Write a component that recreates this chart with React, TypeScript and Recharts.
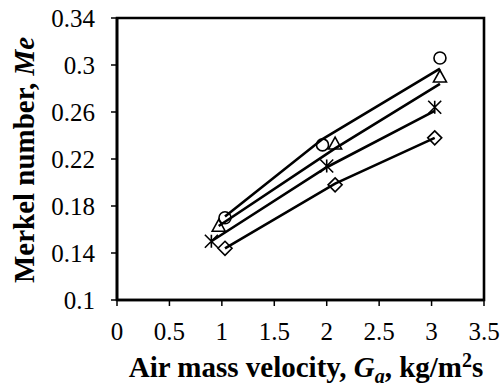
import { ScatterChart, Scatter, XAxis, YAxis, ReferenceArea, Label } from 'recharts'

const xTicks = [0, 0.5, 1, 1.5, 2, 2.5, 3, 3.5]
const yTicks = [0.1, 0.14, 0.18, 0.22, 0.26, 0.3, 0.34]

// measured points (Ga, Me)
const circleGa = [1.03, 1.96, 3.08]
const circleMe = [0.17, 0.232, 0.306]
const triangleGa = [0.97, 2.08, 3.08]
const triangleMe = [0.163, 0.233, 0.29]
const starGa = [0.9, 2.0, 3.03]
const starMe = [0.15, 0.214, 0.264]
const diamondGa = [1.03, 2.08, 3.03]
const diamondMe = [0.144, 0.198, 0.238]

// fitted curves
const circleFit = [0.171, 0.237, 0.297]
const triangleFit = [0.163, 0.229, 0.284]
const starFit = [0.15, 0.213, 0.261]
const diamondFit = [0.144, 0.199, 0.238]

const FONT = 'Liberation Serif, Times New Roman, serif'

const pts = (xs: number[], ys: number[]) => xs.map((x, i) => ({ x, y: ys[i] }))

const stroke = { stroke: '#000', strokeWidth: 1.6, fill: 'none' }

function CircleMark({ cx, cy }: any) {
  return <circle cx={cx} cy={cy} r={6} {...stroke} />
}

function TriangleMark({ cx, cy }: any) {
  const s = 6.5
  return <path d={`M${cx},${cy - s} L${cx + s},${cy + s * 0.8} L${cx - s},${cy + s * 0.8} Z`} {...stroke} />
}

function StarMark({ cx, cy }: any) {
  const s = 6.5
  return (
    <path
      d={`M${cx},${cy - s} L${cx},${cy + s} M${cx - s},${cy - s} L${cx + s},${cy + s} M${cx + s},${cy - s} L${cx - s},${cy + s}`}
      {...stroke}
    />
  )
}

function DiamondMark({ cx, cy }: any) {
  const s = 7
  return <path d={`M${cx},${cy - s} L${cx + s},${cy} L${cx},${cy + s} L${cx - s},${cy} Z`} {...stroke} />
}

const NoMark = () => <g />

const fitLine = { stroke: '#000', strokeWidth: 2.6 }

export default function App() {
  return (
    <div style={{ position: 'absolute', left: 0, top: 0, width: 502, height: 392, background: '#fff' }}>
      <ScatterChart width={502} height={392} margin={{ top: 18, right: 18, left: 0, bottom: 0 }}>
        <XAxis
          type="number"
          dataKey="x"
          domain={[0, 3.5]}
          ticks={xTicks}
          interval={0}
          height={92}
          axisLine={{ stroke: '#000', strokeWidth: 2.6 }}
          tickLine={{ stroke: '#000', strokeWidth: 1.5 }}
          tickSize={6}
          tickMargin={16}
          tick={{ fill: '#000', fontSize: 25, fontFamily: FONT }}
        >
          <Label
            content={() => (
              <text x={306} y={377} textAnchor="middle" fontFamily={FONT} fontSize={29} fontWeight="bold" fill="#000">
                Air mass velocity, <tspan fontStyle="italic">G</tspan>
                <tspan fontStyle="italic" fontSize={20} dy={6}>a</tspan>
                <tspan dy={-6}>, kg/m</tspan>
                <tspan fontSize={20} dy={-10}>2</tspan>
                <tspan dy={10}>s</tspan>
              </text>
            )}
          />
        </XAxis>
        <YAxis
          type="number"
          dataKey="y"
          domain={[0.1, 0.34]}
          ticks={yTicks}
          interval={0}
          width={117}
          axisLine={{ stroke: '#000', strokeWidth: 2.6 }}
          tickLine={{ stroke: '#000', strokeWidth: 1.5 }}
          tickSize={6}
          tickMargin={16}
          tick={{ fill: '#000', fontSize: 25, fontFamily: FONT }}
        >
          <Label
            content={() => (
              <text
                x={24}
                y={160}
                transform="rotate(-90, 24, 160)"
                textAnchor="middle"
                dominantBaseline="central"
                fontFamily={FONT}
                fontSize={29}
                fontWeight="bold"
                fill="#000"
              >
                Merkel number, <tspan fontStyle="italic">Me</tspan>
              </text>
            )}
          />
        </YAxis>
        <ReferenceArea x1={0} x2={3.5} y1={0.1} y2={0.34} fill="none" stroke="#000" strokeWidth={2.6} />

        <Scatter data={pts(circleGa, circleFit)} line={fitLine} shape={NoMark} isAnimationActive={false} />
        <Scatter data={pts(triangleGa, triangleFit)} line={fitLine} shape={NoMark} isAnimationActive={false} />
        <Scatter data={pts(starGa, starFit)} line={fitLine} shape={NoMark} isAnimationActive={false} />
        <Scatter data={pts(diamondGa, diamondFit)} line={fitLine} shape={NoMark} isAnimationActive={false} />

        <Scatter data={pts(circleGa, circleMe)} shape={CircleMark} isAnimationActive={false} />
        <Scatter data={pts(triangleGa, triangleMe)} shape={TriangleMark} isAnimationActive={false} />
        <Scatter data={pts(starGa, starMe)} shape={StarMark} isAnimationActive={false} />
        <Scatter data={pts(diamondGa, diamondMe)} shape={DiamondMark} isAnimationActive={false} />
      </ScatterChart>
    </div>
  )
}
